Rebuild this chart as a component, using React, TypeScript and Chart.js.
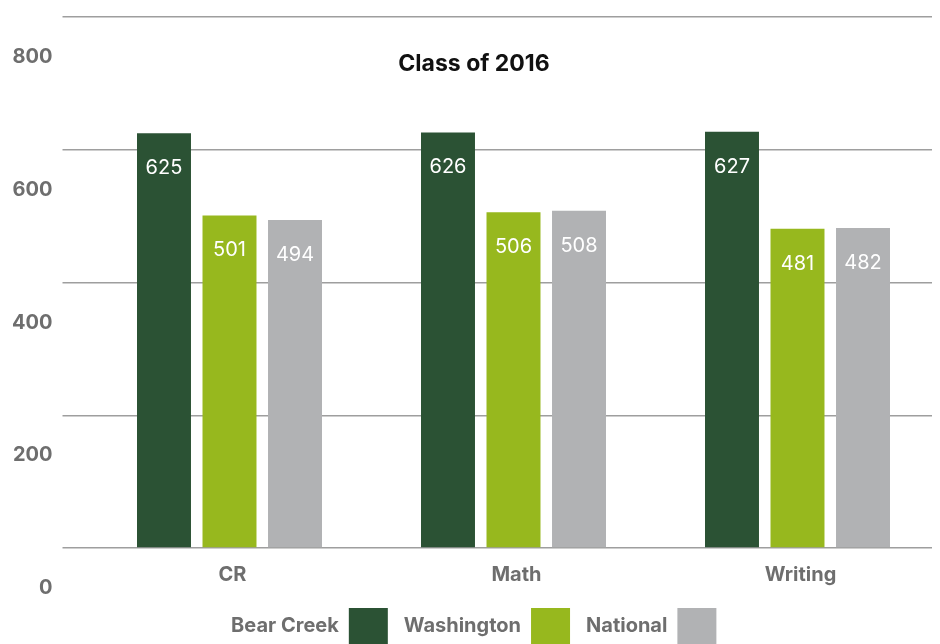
import React, { useEffect, useRef } from "react";
import { Chart, registerables } from "chart.js";

Chart.register(...registerables);

const categories = ["CR", "Math", "Writing"];
const seriesNames = ["Bear Creek", "Washington", "National"];
const bearCreek = [625, 626, 627];
const washington = [501, 506, 481];
const national = [494, 508, 482];
const yTicks = [0, 200, 400, 600, 800];
const titleText = "Class of 2016";

const FONT = "Inter";
const colors = ["#2b5234", "#97b81e", "#b1b2b4"];

const overlayPlugin = {
  id: "overlay",
  beforeDraw(chart: any) {
    const ctx = chart.ctx;
    ctx.save();
    ctx.beginPath();
    ctx.rect(0, 0, 924, chart.height);
    ctx.clip();
  },
  afterDatasetsDraw(chart: any) {
    const ctx = chart.ctx;
    ctx.save();
    ctx.fillStyle = "#ffffff";
    ctx.font = `400 20px ${FONT}`;
    ctx.textAlign = "center";
    ctx.textBaseline = "alphabetic";
    chart.data.datasets.forEach((ds: any, di: number) => {
      const meta = chart.getDatasetMeta(di);
      meta.data.forEach((el: any, i: number) => {
        ctx.fillText(String(ds.data[i]), el.x, el.y + 41);
      });
    });
    ctx.restore();
  },
  afterDraw(chart: any) {
    const ctx = chart.ctx;
    ctx.restore();
    ctx.save();
    ctx.fillStyle = "#111111";
    ctx.font = `700 23px ${FONT}`;
    ctx.textAlign = "center";
    ctx.textBaseline = "alphabetic";
    ctx.fillText(titleText, 466, 63);
    ctx.restore();
  },
};

export default function App() {
  const ref = useRef<HTMLCanvasElement | null>(null);
  useEffect(() => {
    if (!ref.current) return;
    const chart = new Chart(ref.current, {
      type: "bar",
      data: {
        labels: categories,
        datasets: [bearCreek, washington, national].map((d, i) => ({
          label: seriesNames[i],
          data: d,
          backgroundColor: colors[i],
          borderWidth: 0,
          categoryPercentage: 0.692,
          barPercentage: 0.824,
        })),
      },
      options: {
        animation: false,
        responsive: true,
        maintainAspectRatio: false,
        layout: { padding: { left: 0, right: 0.5, top: 9, bottom: -10 } },
        plugins: {
          title: { display: false },
          tooltip: { enabled: false },
          legend: {
            position: "bottom",
            rtl: true,
            reverse: true,
            labels: {
              boxWidth: 39,
              boxHeight: 36,
              padding: 16,
              color: "#6e6e6e",
              font: { family: FONT, size: 20, weight: "bold" },
            },
          },
        },
        scales: {
          x: {
            grid: { display: false, drawTicks: false },
            border: { display: false },
            ticks: {
              padding: 15,
              labelOffset: 3,
              color: "#6e6e6e",
              font: { family: FONT, size: 20, weight: "bold" },
            },
            afterFit(scale: any) {
              scale.height = 44;
            },
          },
          y: {
            min: 0,
            max: 800,
            afterBuildTicks(scale: any) {
              scale.ticks = yTicks.map((v) => ({ value: v }));
            },
            grid: {
              color: "#9e9e9e",
              lineWidth: 1.5,
              drawTicks: true,
              tickLength: 25,
            },
            border: { display: false },
            ticks: {
              padding: 10,
              labelOffset: 40,
              color: "#6e6e6e",
              font: { family: FONT, size: 20, weight: "bold" },
            },
            afterFit(scale: any) {
              scale.width = 79.5;
              scale.paddingTop = 0;
              scale.paddingBottom = 0;
            },
          },
        },
      },
      plugins: [overlayPlugin],
    } as any);
    return () => chart.destroy();
  }, []);
  return (
    <div style={{ position: "relative", width: "932px", height: "636px" }}>
      <canvas ref={ref} />
    </div>
  );
}
